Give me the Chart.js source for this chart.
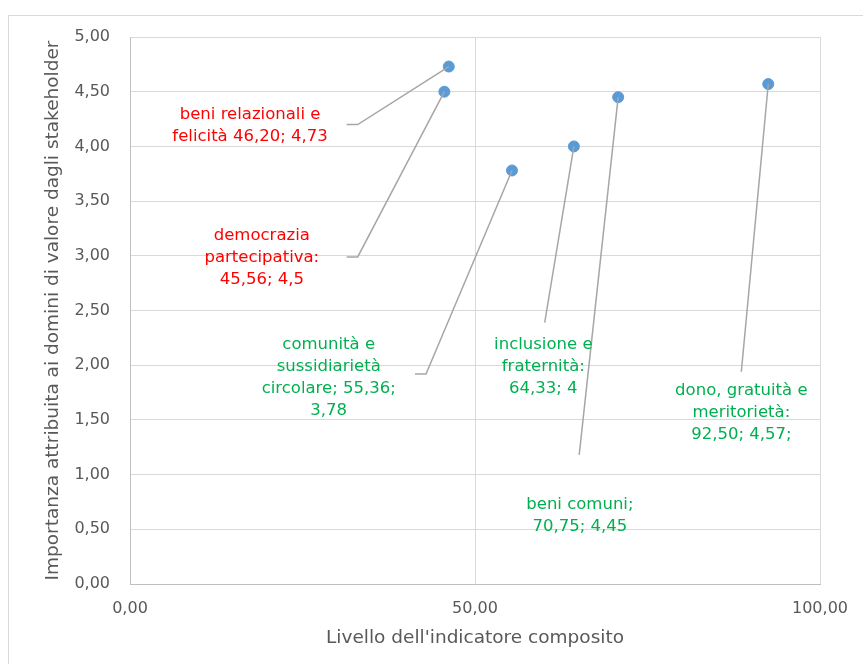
<!DOCTYPE html>
<html>
<head>
<meta charset="utf-8">
<script src="https://cdn.jsdelivr.net/npm/chart.js@4/dist/chart.umd.min.js"></script>
<style>
  html, body { margin: 0; padding: 0; background: #fff; }
  #wrap { width: 863px; height: 664px; position: relative; }
</style>
</head>
<body>
<div id="wrap"><canvas id="scatter"></canvas></div>
<script>
(function () {

// -------------------------------------------------------------------------------------------------------

var names = ["beni relazionali e felicità", "democrazia partecipativa", "comunità e sussidiarietà circolare",
             "inclusione e fraternità", "beni comuni", "dono, gratuità e meritorietà"];
var xValues = [46.20, 45.56, 55.36, 64.33, 70.75, 92.50];
var yValues = [4.73, 4.50, 3.78, 4.00, 4.45, 4.57];

var xTicks = [0, 50, 100];

// label text as shown in the picture
var labelText = [
    ["beni relazionali e", "felicità 46,20; 4,73"],
    ["democrazia", "partecipativa:", "45,56; 4,5"],
    ["comunità e", "sussidiarietà", "circolare; 55,36;", "3,78"],
    ["inclusione e", "fraternità:", "64,33; 4"],
    ["beni comuni;", "70,75; 4,45"],
    ["dono, gratuità e", "meritorietà:", "92,50; 4,57;"]
];
var labelColor = ["#ff0000", "#ff0000", "#00b050", "#00b050", "#00b050", "#00b050"];

// where the labels sit (data units) and where their leader lines end
var labelCenter = [[17.4, 4.19], [19.1, 2.98], [28.8, 1.89], [59.9, 1.99], [65.2, 0.62], [88.6, 1.57]];
var leaderEnd = [[33.0, 4.20], [33.0, 2.99], [42.9, 1.92], [60.1, 2.39], [65.1, 1.18], [88.6, 1.94]];
var leaderStub = [31.4, 31.4, 41.3, null, null, null];

var FONT = 'DejaVu Sans';
var num = function (v) { return Number(v).toFixed(2).replace('.', ','); };

// -------------------------------------------------------------------------------------------------------

var frame = {
    id: 'frame',
    beforeDraw: function (chart) {
        var ctx = chart.ctx;
        ctx.save();
        ctx.strokeStyle = '#d9d9d9';
        ctx.lineWidth = 1;
        ctx.strokeRect(8.5, 15.5, chart.width + 10, chart.height + 10);
        ctx.restore();
    }
};

var callouts = {
    id: 'callouts',
    afterDatasetsDraw: function (chart) {
        var ctx = chart.ctx;
        var xs = chart.scales.x, ys = chart.scales.y;
        ctx.save();
        for (var i = 0; i < xValues.length; i++) {
            var px = xs.getPixelForValue(xValues[i]), py = ys.getPixelForValue(yValues[i]);
            var ex = xs.getPixelForValue(leaderEnd[i][0]), ey = ys.getPixelForValue(leaderEnd[i][1]);
            ctx.beginPath();
            ctx.strokeStyle = '#a6a6a6';
            ctx.lineWidth = 1.5;
            ctx.moveTo(px, py);
            ctx.lineTo(ex, ey);
            if (leaderStub[i] !== null) ctx.lineTo(xs.getPixelForValue(leaderStub[i]), ey);
            ctx.stroke();
        }
        ctx.font = '16.5px "' + FONT + '"';
        ctx.textAlign = 'center';
        ctx.textBaseline = 'middle';
        var lh = 22;
        for (var j = 0; j < labelText.length; j++) {
            var cx = xs.getPixelForValue(labelCenter[j][0]), cy = ys.getPixelForValue(labelCenter[j][1]);
            var lines = labelText[j];
            var y0 = cy - (lines.length - 1) * lh / 2;
            ctx.fillStyle = labelColor[j];
            for (var k = 0; k < lines.length; k++) ctx.fillText(lines[k], cx, y0 + k * lh);
        }
        ctx.restore();
    }
};

// -------------------------------------------------------------------------------------------------------

window.scatter_chart = function (canvasId) {
    try {
        var canvas = document.getElementById(canvasId);
        if (!canvas) return;

        var ctx = canvas.getContext("2d");
        var pts = xValues.map(function (x, i) { return { x: x, y: yValues[i] }; });

        return new Chart(ctx, {
            type: 'scatter',
            data: {
                labels: names,
                datasets: [{
                    data: pts,
                    backgroundColor: '#5b9bd5',
                    borderColor: '#5b9bd5',
                    pointRadius: 5.5,
                    pointHoverRadius: 5.5
                }]
            },
            options: {
                responsive: true,
                maintainAspectRatio: false,
                animation: false,
                layout: { padding: { left: 0, top: 37, right: 43, bottom: 0 } },
                plugins: { legend: { display: false }, tooltip: { enabled: false } },
                scales: {
                    x: {
                        min: 0, max: 100,
                        afterBuildTicks: function (s) { s.ticks = xTicks.map(function (v) { return { value: v }; }); },
                        afterFit: function (s) { s.height = 80; },
                        grid: { color: '#d9d9d9', drawTicks: false },
                        border: { color: '#bfbfbf' },
                        ticks: { padding: 15, color: '#595959', font: { family: FONT, size: 16 }, callback: num },
                        title: { display: true, text: "Livello dell'indicatore composito", color: '#595959',
                                 font: { family: FONT, size: 18.5 }, padding: { top: 0, bottom: 15 } }
                    },
                    y: {
                        min: 0, max: 5,
                        afterFit: function (s) { s.width = 130; },
                        grid: { color: '#d9d9d9', drawTicks: false },
                        border: { color: '#bfbfbf' },
                        ticks: { stepSize: 0.5, padding: 20, color: '#595959', font: { family: FONT, size: 16 }, callback: num },
                        title: { display: true, text: 'Importanza attribuita ai domini di valore dagli stakeholder', color: '#595959',
                                 font: { family: FONT, size: 18.5 }, padding: { top: 42, bottom: 0 } }
                    }
                }
            },
            plugins: [frame, callouts]
        });
    } catch (e) { console.log(e); }
};

scatter_chart("scatter");

// -------------------------------------------------------------------------------------------------------

})();
</script>
</body>
</html>
